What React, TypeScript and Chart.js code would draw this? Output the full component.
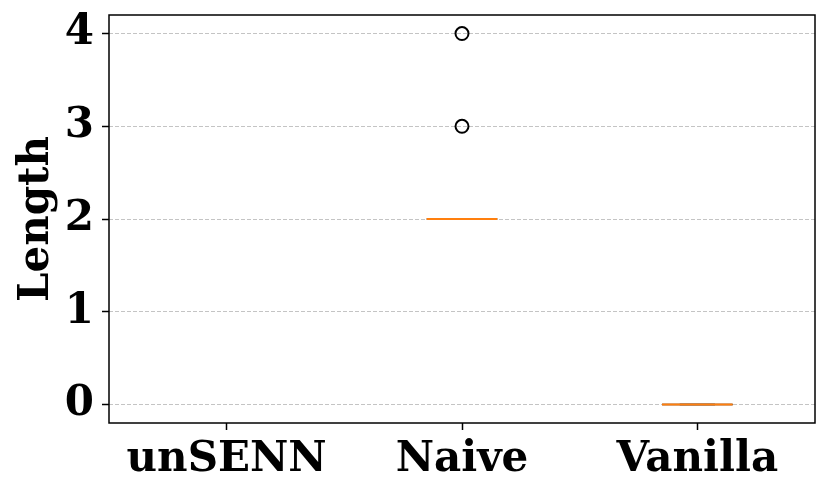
import React, { useEffect, useRef } from 'react';
import { Chart, registerables } from 'chart.js';

Chart.register(...registerables);

const categories = ['unSENN', 'Naive', 'Vanilla'];
const whiskerLow: (number | null)[] = [null, 2, 0];
const q1: (number | null)[] = [null, 2, 0];
const median: (number | null)[] = [null, 2, 0];
const q3: (number | null)[] = [null, 2, 0];
const whiskerHigh: (number | null)[] = [null, 2, 0];
const outlierCategories = ['Naive', 'Naive'];
const outlierValues = [3, 4];
const yTicks = [0, 1, 2, 3, 4];
const yMin = -0.2;
const yMax = 4.2;

const FONT = "'DejaVu Serif', serif";

const boxPlugin = {
  id: 'boxPlugin',
  beforeDatasetsDraw(chart: any) {
    const { ctx, scales } = chart;
    const xs = scales.x;
    const ys = scales.y;
    const spacing = xs.getPixelForValue(1) - xs.getPixelForValue(0);
    const half = spacing * 0.15;
    const capHalf = half / 2;
    ctx.save();
    categories.forEach((_c, i) => {
      if (median[i] == null) return;
      const cx = xs.getPixelForValue(i);
      const yq1 = ys.getPixelForValue(q1[i]);
      const yq3 = ys.getPixelForValue(q3[i]);
      const ylo = ys.getPixelForValue(whiskerLow[i]);
      const yhi = ys.getPixelForValue(whiskerHigh[i]);
      const ymed = ys.getPixelForValue(median[i]);
      ctx.strokeStyle = '#000';
      ctx.lineWidth = 1.5;
      ctx.setLineDash([]);
      ctx.strokeRect(cx - half, yq3, half * 2, yq1 - yq3);
      ctx.beginPath();
      ctx.moveTo(cx, yq1); ctx.lineTo(cx, ylo);
      ctx.moveTo(cx, yq3); ctx.lineTo(cx, yhi);
      ctx.moveTo(cx - capHalf, ylo); ctx.lineTo(cx + capHalf, ylo);
      ctx.moveTo(cx - capHalf, yhi); ctx.lineTo(cx + capHalf, yhi);
      ctx.stroke();
      ctx.strokeStyle = '#ff7f0e';
      ctx.lineWidth = 2;
      ctx.beginPath();
      ctx.moveTo(cx - half, ymed); ctx.lineTo(cx + half, ymed);
      ctx.stroke();
    });
    ctx.restore();
  },
  afterDraw(chart: any) {
    const { ctx, chartArea } = chart;
    ctx.save();
    ctx.strokeStyle = '#000';
    ctx.lineWidth = 1.5;
    ctx.setLineDash([]);
    ctx.strokeRect(chartArea.left, chartArea.top, chartArea.right - chartArea.left, chartArea.bottom - chartArea.top);
    ctx.restore();
  },
};

export default function App() {
  const ref = useRef<HTMLCanvasElement>(null);
  useEffect(() => {
    document.body.style.margin = '0';
    const chart = new Chart(ref.current!, {
      type: 'line',
      data: {
        labels: categories,
        datasets: [
          {
            label: 'outliers',
            data: outlierCategories.map((c, i) => ({ x: c, y: outlierValues[i] })) as any,
            showLine: false,
            pointStyle: 'circle',
            pointRadius: 6.5,
            pointBorderWidth: 2,
            pointBorderColor: '#000',
            pointBackgroundColor: 'rgba(0,0,0,0)',
          },
        ],
      },
      options: {
        animation: false,
        responsive: false,
        maintainAspectRatio: false,
        layout: { padding: { top: 15, right: 15, left: 0, bottom: 0 } },
        plugins: { legend: { display: false }, tooltip: { enabled: false } },
        scales: {
          x: {
            type: 'category',
            offset: true,
            afterFit: (s: any) => { s.height = 72; s.paddingLeft = 0; s.paddingRight = 0; },
            grid: { drawOnChartArea: false, drawTicks: true, tickLength: 7, tickColor: '#000', tickWidth: 1.5, offset: false },
            border: { display: false },
            ticks: { color: '#000', padding: 5, maxRotation: 0, font: { family: FONT, size: 42, weight: 'bold' } },
          },
          y: {
            type: 'linear',
            min: yMin,
            max: yMax,
            afterBuildTicks: (s: any) => { s.ticks = yTicks.map((v) => ({ value: v })); },
            afterFit: (s: any) => { s.width = 109; s.paddingTop = 0; s.paddingBottom = 0; },
            grid: { color: 'rgba(176,176,176,0.75)', lineWidth: 1, tickLength: 7, tickColor: '#000', tickWidth: 1.5, tickBorderDash: [] },
            border: { display: false, dash: [4, 2] },
            ticks: { color: '#000', padding: 8, font: { family: FONT, size: 42, weight: 'bold' } },
            title: { display: true, text: 'Length', color: '#000', padding: { top: 12, bottom: 0 }, font: { family: FONT, size: 42, weight: 'bold' } },
          },
        },
      },
      plugins: [boxPlugin],
    });
    return () => chart.destroy();
  }, []);
  return (
    <div style={{ position: 'fixed', left: 0, top: 0, width: 830, height: 495 }}>
      <canvas ref={ref} width={830} height={495} style={{ width: 830, height: 495 }} />
    </div>
  );
}
